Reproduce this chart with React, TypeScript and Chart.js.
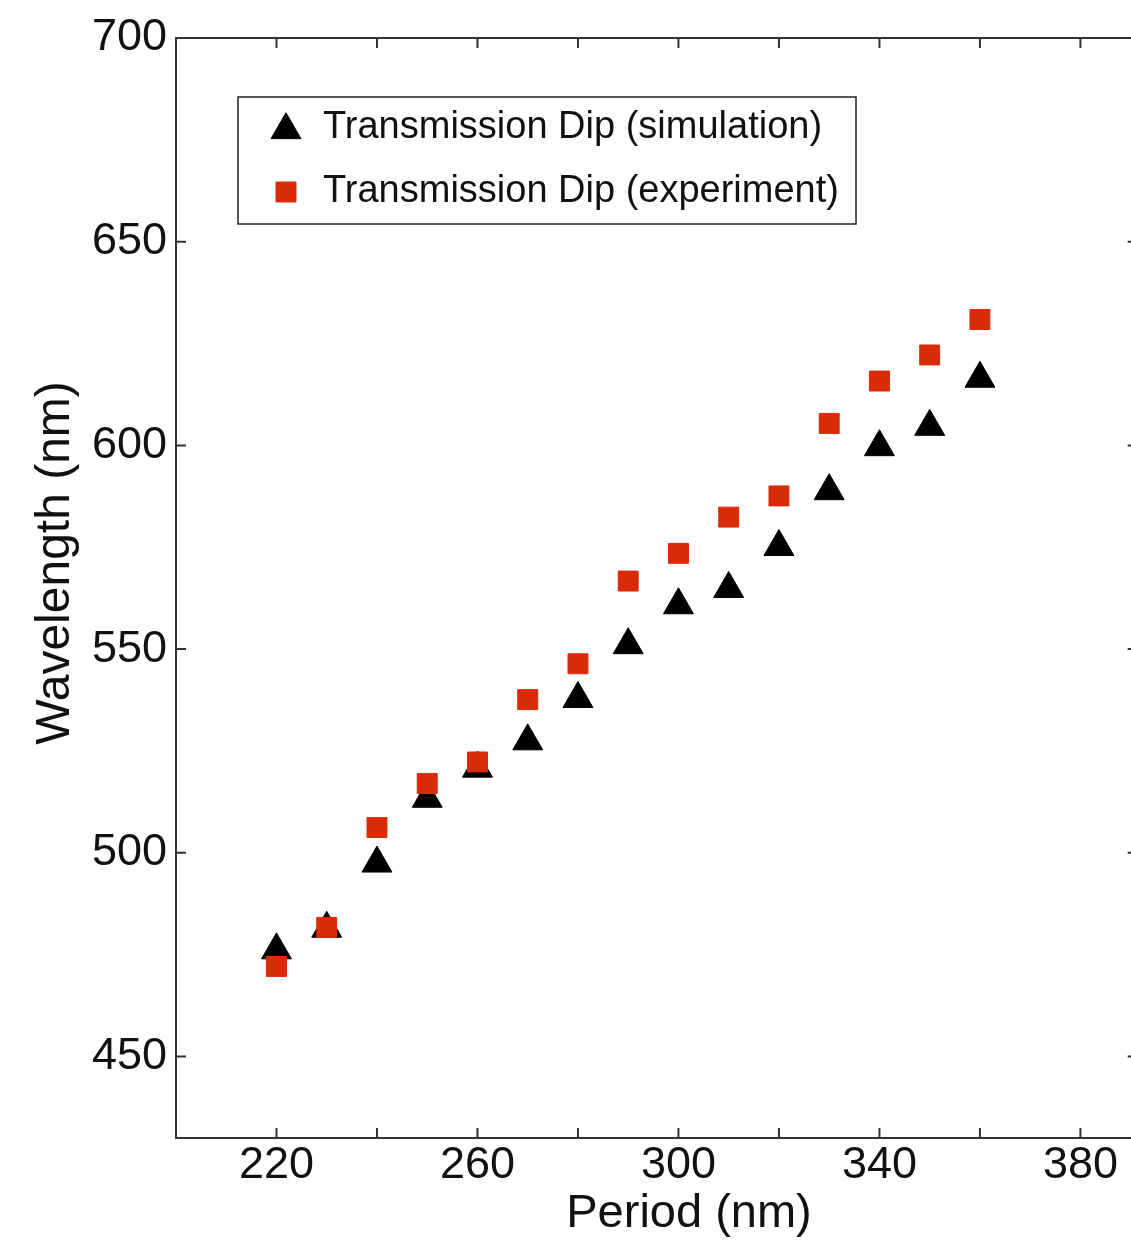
import React, { useEffect, useRef } from 'react';
import { Chart, registerables } from 'chart.js';

Chart.register(...registerables);

// ---- data ----
const periods = [220, 230, 240, 250, 260, 270, 280, 290, 300, 310, 320, 330, 340, 350, 360];
const simulation = [476.1, 481.4, 497.4, 513.3, 520.7, 527.4, 537.8, 551.0, 560.8, 564.8, 575.1, 588.8, 599.6, 604.6, 616.4];
const experiment = [472.1, 481.7, 506.2, 517.0, 522.3, 537.6, 546.4, 566.7, 573.5, 582.4, 587.6, 605.4, 615.8, 622.2, 630.9];
const xTickLabels = [220, 260, 300, 340, 380];
const yTickLabels = [450, 500, 550, 600, 650, 700];
const legendLabels = ['Transmission Dip (simulation)', 'Transmission Dip (experiment)'];
const xTitle = 'Period (nm)';
const yTitle = 'Wavelength (nm)';

const FONT = '"Liberation Sans", Arial, Helvetica, sans-serif';
const RED = '#D92B06';
const BLACK = '#000000';
const AXIS = '#333333';
const TEXT = '#111111';

const TRI_R = 17.3;
const SQ_R = 14.1;

function drawMarker(ctx: CanvasRenderingContext2D, style: string, x: number, y: number, r: number, color: string) {
  ctx.save();
  ctx.fillStyle = color;
  ctx.strokeStyle = color;
  ctx.lineWidth = 1;
  ctx.beginPath();
  if (style === 'triangle') {
    let rad = 0;
    ctx.moveTo(x + Math.sin(rad) * r, y - Math.cos(rad) * r);
    rad += (2 * Math.PI) / 3;
    ctx.lineTo(x + Math.sin(rad) * r, y - Math.cos(rad) * r);
    rad += (2 * Math.PI) / 3;
    ctx.lineTo(x + Math.sin(rad) * r, y - Math.cos(rad) * r);
    ctx.closePath();
  } else {
    const s = Math.SQRT1_2 * r;
    ctx.rect(x - s, y - s, 2 * s, 2 * s);
  }
  ctx.fill();
  ctx.stroke();
  ctx.restore();
}

const framePlugin = {
  id: 'matlabFrame',
  afterDraw(chart: any) {
    const { ctx, chartArea: a } = chart;
    const xs = chart.scales.x;
    const ys = chart.scales.y;
    ctx.save();
    // frame
    ctx.strokeStyle = AXIS;
    ctx.lineWidth = 2;
    ctx.strokeRect(a.left, a.top, a.right - a.left, a.bottom - a.top);
    // inward ticks
    const tl = 10;
    ctx.beginPath();
    xs.ticks.forEach((t: any) => {
      const v = t.value;
      if (v <= xs.min || v >= xs.max || (v - 200) % 20 !== 0) return;
      const px = xs.getPixelForValue(v);
      ctx.moveTo(px, a.bottom);
      ctx.lineTo(px, a.bottom - tl);
      ctx.moveTo(px, a.top);
      ctx.lineTo(px, a.top + tl);
    });
    ys.ticks.forEach((t: any) => {
      const v = t.value;
      if (!yTickLabels.includes(v)) return;
      const py = ys.getPixelForValue(v);
      ctx.moveTo(a.left, py);
      ctx.lineTo(a.left + tl, py);
      ctx.moveTo(a.right, py);
      ctx.lineTo(a.right - tl, py);
    });
    ctx.stroke();

    // axis titles
    ctx.fillStyle = TEXT;
    ctx.font = `47px ${FONT}`;
    ctx.textAlign = 'center';
    ctx.textBaseline = 'alphabetic';
    ctx.fillText(xTitle, a.left + 513, a.bottom + 89);
    ctx.save();
    ctx.translate(a.left - 107, a.top + 525);
    ctx.rotate(-Math.PI / 2);
    ctx.font = `48px ${FONT}`;
    ctx.fillText(yTitle, 0, 0);
    ctx.restore();

    // legend
    const lx = a.left + 62;
    const ly = a.top + 59;
    const lw = 618;
    const lh = 127;
    ctx.fillStyle = '#ffffff';
    ctx.fillRect(lx, ly, lw, lh);
    ctx.strokeStyle = '#222222';
    ctx.lineWidth = 1.5;
    ctx.strokeRect(lx, ly, lw, lh);
    const rows = [
      { style: 'triangle', r: TRI_R, color: BLACK, label: legendLabels[0], cy: ly + 31 },
      { style: 'rect', r: SQ_R, color: RED, label: legendLabels[1], cy: ly + 95 },
    ];
    rows.forEach((row) => {
      drawMarker(ctx, row.style, lx + 48, row.cy + (row.style === 'triangle' ? 2 : 0), row.r, row.color);
      ctx.fillStyle = TEXT;
      ctx.font = `38px ${FONT}`;
      ctx.textAlign = 'left';
      ctx.textBaseline = 'middle';
      ctx.fillText(row.label, lx + 85, row.cy);
    });
    ctx.restore();
  },
};

export default function App() {
  const canvasRef = useRef<HTMLCanvasElement | null>(null);

  useEffect(() => {
    const canvas = canvasRef.current;
    if (!canvas) return;
    const chart = new Chart(canvas, {
      type: 'scatter',
      data: {
        datasets: [
          {
            label: legendLabels[0],
            data: periods.map((p, i) => ({ x: p, y: simulation[i] })),
            pointStyle: 'triangle',
            pointRadius: TRI_R,
            pointHoverRadius: TRI_R,
            backgroundColor: BLACK,
            borderColor: BLACK,
            borderWidth: 1,
            order: 2,
          },
          {
            label: legendLabels[1],
            data: periods.map((p, i) => ({ x: p, y: experiment[i] })),
            pointStyle: 'rect',
            pointRadius: SQ_R,
            pointHoverRadius: SQ_R,
            backgroundColor: RED,
            borderColor: RED,
            borderWidth: 1,
            order: 1,
          },
        ],
      },
      options: {
        responsive: false,
        animation: false,
        devicePixelRatio: 1,
        layout: { padding: { top: 38, right: 2, left: 0, bottom: 0 } },
        plugins: {
          legend: { display: false },
          tooltip: { enabled: false },
          title: { display: false },
        },
        scales: {
          x: {
            type: 'linear',
            min: 200,
            max: 391.4,
            grid: { display: false, drawTicks: false },
            border: { display: false },
            ticks: {
              stepSize: 20,
              includeBounds: false,
              autoSkip: false,
              maxRotation: 0,
              padding: 1,
              color: TEXT,
              font: { family: FONT, size: 45 },
              callback: (v: any) => (xTickLabels.includes(Number(v)) ? String(v) : ''),
            },
            afterFit: (s: any) => {
              s.height = 103;
              s.paddingRight = 0;
              s.paddingLeft = 0;
            },
          },
          y: {
            type: 'linear',
            min: 430,
            max: 700,
            grid: { display: false, drawTicks: false },
            border: { display: false },
            ticks: {
              stepSize: 50,
              autoSkip: false,
              padding: 9,
              color: TEXT,
              font: { family: FONT, size: 45 },
              callback: (v: any) => (yTickLabels.includes(Number(v)) ? String(v) : ''),
            },
            afterFit: (s: any) => {
              s.width = 176;
            },
          },
        },
      },
      plugins: [framePlugin],
    });
    return () => chart.destroy();
  }, []);

  return (
    <div
      style={{
        position: 'fixed',
        left: 0,
        top: 0,
        width: 1131,
        height: 1241,
        overflow: 'hidden',
        background: '#ffffff',
      }}
    >
      <canvas ref={canvasRef} width={1156} height={1241} style={{ display: 'block' }} />
    </div>
  );
}
